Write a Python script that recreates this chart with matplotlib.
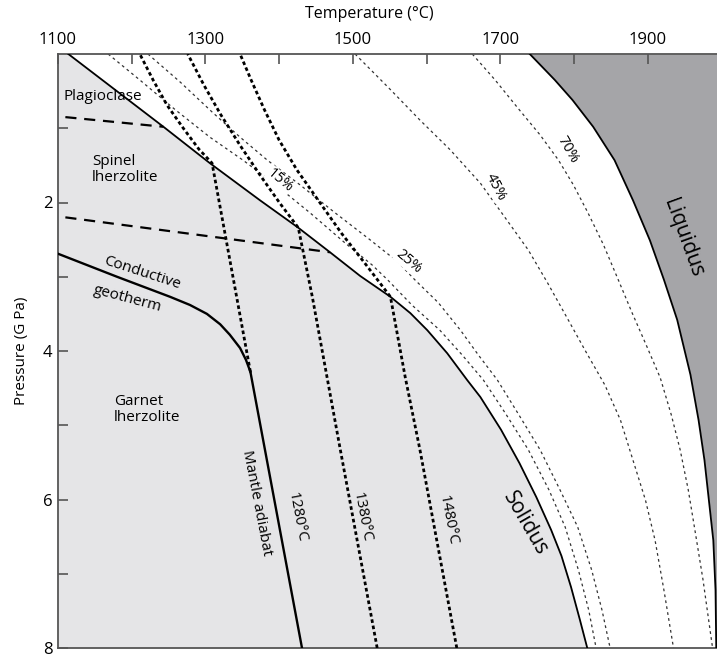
import matplotlib
matplotlib.use("Agg")
import matplotlib.pyplot as plt

plt.rcParams['font.family'] = ['Open Sans', 'DejaVu Sans']

# --- data (temperature in degC, pressure in GPa) ---
solidus_T = [1114, 1243, 1306, 1374, 1426, 1469, 1510, 1551, 1578, 1601, 1628, 1655,
             1673, 1701, 1726, 1749, 1769, 1783, 1796, 1808, 1818]
solidus_P = [0, 0.98, 1.47, 1.97, 2.34, 2.67, 2.99, 3.27, 3.49, 3.72, 4.03, 4.39,
             4.62, 5.06, 5.51, 5.97, 6.41, 6.76, 7.18, 7.62, 8.0]

liquidus_T = [1740, 1774, 1798, 1826, 1855, 1880, 1903, 1922, 1940, 1958, 1969, 1977,
              1983, 1989, 1992, 1993]
liquidus_P = [0, 0.35, 0.62, 0.98, 1.43, 1.97, 2.51, 3.04, 3.58, 4.32, 4.93, 5.47,
              6.01, 6.55, 7.22, 8.0]

# melt fraction isopleths
iso15_T = [1168, 1211, 1259, 1306, 1351, 1395, 1442, 1490, 1526, 1547, 1580, 1618,
           1648, 1677, 1707, 1738, 1766, 1788, 1806, 1820, 1830]
iso15_P = [0, 0.35, 0.75, 1.12, 1.43, 1.76, 2.14, 2.55, 2.84, 3.04, 3.38, 3.72,
           4.05, 4.39, 4.84, 5.33, 5.87, 6.37, 6.95, 7.49, 8.0]
iso25_T = [1222, 1266, 1310, 1347, 1384, 1428, 1476, 1523, 1561, 1584, 1616, 1646,
           1670, 1696, 1724, 1754, 1781, 1805, 1824, 1838, 1849]
iso25_P = [0, 0.38, 0.79, 1.12, 1.43, 1.76, 2.14, 2.50, 2.80, 3.04, 3.35, 3.72,
           4.05, 4.39, 4.84, 5.33, 5.87, 6.37, 6.95, 7.49, 8.0]
iso45_T = [1503, 1551, 1591, 1632, 1673, 1707, 1738, 1764, 1791, 1815, 1842, 1863,
           1880, 1897, 1910, 1922, 1935]
iso45_P = [0, 0.48, 0.89, 1.29, 1.74, 2.21, 2.64, 3.08, 3.56, 3.99, 4.46, 4.93,
           5.47, 6.01, 6.55, 7.22, 8.0]
iso70_T = [1662, 1693, 1724, 1754, 1779, 1799, 1819, 1840, 1860, 1879, 1898, 1917,
           1932, 1944, 1955, 1964, 1975, 1988]
iso70_P = [0, 0.35, 0.73, 1.09, 1.43, 1.76, 2.14, 2.57, 3.04, 3.49, 3.92, 4.36,
           4.86, 5.33, 5.87, 6.41, 7.08, 8.0]

# conductive geotherm and mantle adiabat
geo_T = [1100, 1180, 1252, 1279, 1302, 1320, 1333, 1347, 1355, 1361]
geo_P = [2.69, 3.0, 3.27, 3.38, 3.50, 3.64, 3.78, 3.96, 4.12, 4.28]
adiabat_T = [1361, 1431]
adiabat_P = [4.28, 8.0]

# adiabats below solidus and melting paths above it
ad1280_T = [1361, 1309, 1291, 1270, 1248, 1229, 1211]
ad1280_P = [4.28, 1.47, 1.28, 1.0, 0.69, 0.35, 0]
ad1380_T = [1533, 1483, 1445, 1426, 1401, 1374, 1347, 1321, 1298, 1276]
ad1380_P = [8.0, 5.33, 3.27, 2.34, 2.01, 1.63, 1.23, 0.82, 0.42, 0]
ad1480_T = [1641, 1591, 1571, 1551, 1518, 1485, 1453, 1424, 1400, 1380, 1362, 1347]
ad1480_P = [8.0, 5.33, 4.35, 3.27, 2.84, 2.42, 1.97, 1.56, 1.16, 0.75, 0.35, 0]

# phase transitions
plag_T = [1110, 1243]
plag_P = [0.85, 0.98]
spinel_T = [1110, 1469]
spinel_P = [2.20, 2.67]

xmin, xmax = 1100, 1994
ymin, ymax = 0, 8

fig = plt.figure(figsize=(7.17, 6.57), dpi=100)
ax = fig.add_axes([58/717, 1 - 648/657, 1 - 58/717, (648 - 54)/657])

# shaded regions
ax.fill_betweenx(solidus_P, xmin, solidus_T, color='#e5e5e7', zorder=0, lw=0)
ax.fill_betweenx(liquidus_P, liquidus_T, xmax, color='#a5a5a8', zorder=0, lw=0)

ax.plot(solidus_T, solidus_P, color='black', lw=1.3, zorder=3)
ax.plot(liquidus_T, liquidus_P, color='black', lw=1.3, zorder=3)

thin = dict(color='#333333', lw=0.9, linestyle=(0, (2.2, 2.6)), zorder=2)
for t, p in [(iso15_T, iso15_P), (iso25_T, iso25_P), (iso45_T, iso45_P), (iso70_T, iso70_P)]:
    ax.plot(t, p, **thin)

thick = dict(color='black', lw=2.0, linestyle=(0, (1.3, 1.0)), zorder=3)
for t, p in [(ad1280_T, ad1280_P), (ad1380_T, ad1380_P), (ad1480_T, ad1480_P)]:
    ax.plot(t, p, **thick)

ax.plot(geo_T, geo_P, color='black', lw=1.7, zorder=4)
ax.plot(adiabat_T, adiabat_P, color='black', lw=1.7, zorder=4)

dash = dict(color='black', lw=1.6, linestyle=(0, (5, 3.5)), zorder=3)
ax.plot(plag_T, plag_P, **dash)
ax.plot(spinel_T, spinel_P, **dash)

# axes
ax.set_xlim(xmin, xmax)
ax.set_ylim(ymax, ymin)
ax.xaxis.tick_top()
ax.set_xticks([1100, 1300, 1500, 1700, 1900])
ax.set_xticks([1200, 1400, 1600, 1800], minor=True)
ax.set_yticks([2, 4, 6, 8])
ax.set_yticks([1, 3, 5, 7], minor=True)
ax.tick_params(which='both', direction='in', length=7, width=1.2, color='#555555',
               labelsize=12, pad=4)
for s in ['left', 'top', 'bottom']:
    ax.spines[s].set_color('#555555')
    ax.spines[s].set_linewidth(1.3)
ax.spines['right'].set_visible(False)
ax.set_ylabel('Pressure (G Pa)', fontsize=11, labelpad=10)
fig.text(0.515, 0.979, 'Temperature (°C)', ha='center', va='center', fontsize=11.5)

# labels
fs = 11
ax.text(1108, 0.57, 'Plagioclase', fontsize=fs, ha='left', va='center', zorder=5)
ax.text(1146, 1.56, 'Spinel\nlherzolite', fontsize=fs, ha='left', va='center', linespacing=1.1)
ax.text(1214, 2.95, 'Conductive', fontsize=fs, ha='center', va='center', rotation=-18)
ax.text(1194, 3.30, 'geotherm', fontsize=fs, ha='center', va='center', rotation=-15)
ax.text(1176, 4.79, 'Garnet\nlherzolite', fontsize=fs, ha='left', va='center', linespacing=1.1)
ax.text(1370, 6.05, 'Mantle adiabat', fontsize=fs, ha='center', va='center', rotation=-79)
ax.text(1424, 6.24, '1280°C', fontsize=fs, ha='center', va='center', rotation=-79)
ax.text(1512, 6.24, '1380°C', fontsize=fs, ha='center', va='center', rotation=-79)
ax.text(1629, 6.28, '1480°C', fontsize=fs, ha='center', va='center', rotation=-79)
ax.text(1734, 6.32, 'Solidus', fontsize=15, ha='center', va='center', rotation=-60)
ax.text(1948, 2.48, 'Liquidus', fontsize=15, ha='center', va='center', rotation=-70)

bb = dict(facecolor='white', edgecolor='none', pad=0.3)
ax.text(1401, 1.70, '15%', fontsize=10.5, ha='center', va='center', rotation=-40, bbox=bb, zorder=5)
ax.text(1575, 2.80, '25%', fontsize=10.5, ha='center', va='center', rotation=-40, bbox=bb, zorder=5)
ax.text(1693, 1.79, '45%', fontsize=10.5, ha='center', va='center', rotation=-62, bbox=bb, zorder=5)
ax.text(1791, 1.29, '70%', fontsize=10.5, ha='center', va='center', rotation=-60, bbox=bb, zorder=5)

fig.savefig('out.png', dpi=100)
